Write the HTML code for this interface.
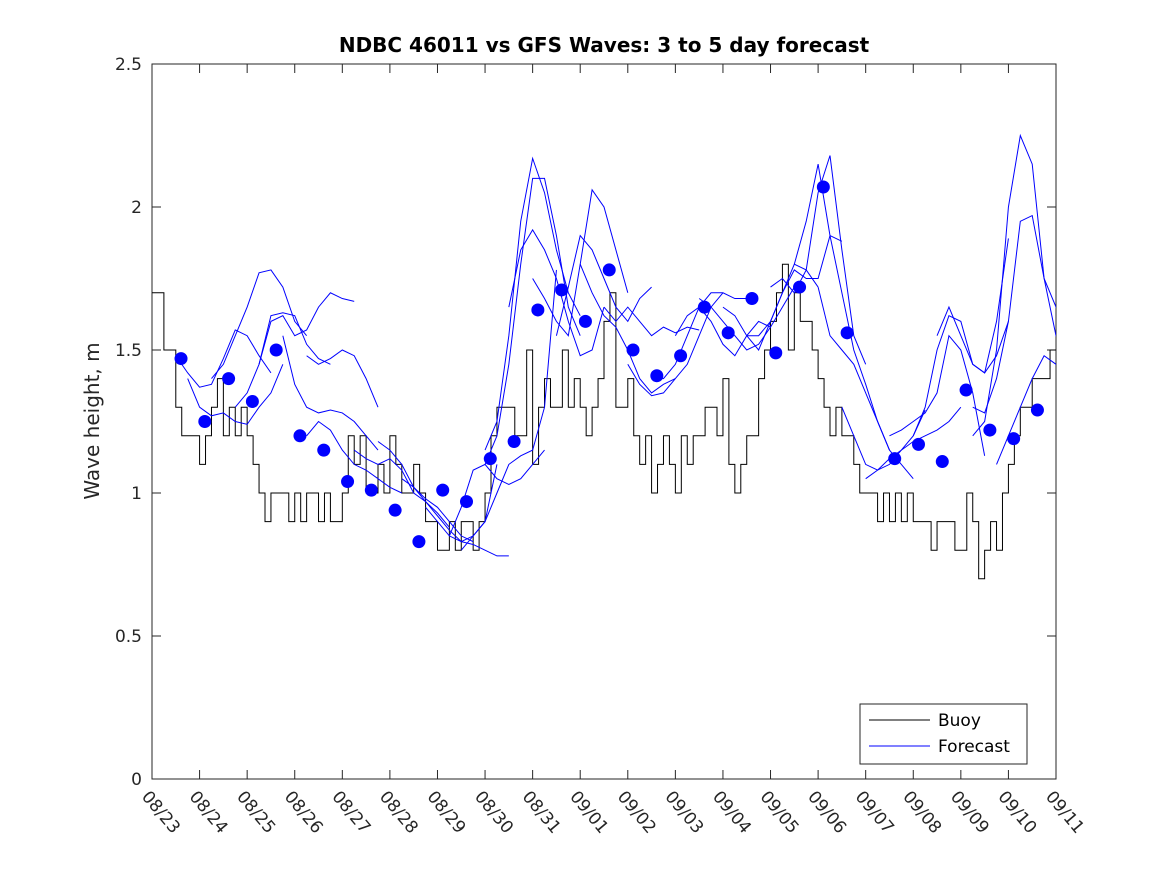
<!DOCTYPE html>
<html><head><meta charset="utf-8"><style>
body{margin:0;background:#fff;}
svg{display:block;font-family:"DejaVu Sans","Liberation Sans",sans-serif;}
</style></head><body>
<svg id="chart" width="1167" height="875" viewBox="0 0 1167 875" xmlns="http://www.w3.org/2000/svg">
<defs><clipPath id="plotclip"><rect x="152" y="64" width="904" height="715"/></clipPath></defs>
<rect x="0" y="0" width="1167" height="875" fill="#fff"/>
<rect x="152" y="64" width="904" height="715" fill="#fff" stroke="#262626" stroke-width="1"/>
<text x="604" y="52" text-anchor="middle" font-size="20" font-weight="bold" fill="#000">NDBC 46011 vs GFS Waves: 3 to 5 day forecast</text>
<text transform="translate(99,421) rotate(-90)" text-anchor="middle" font-size="20" fill="#262626">Wave height, m</text>
<g id="axes"></g>
<g id="series" clip-path="url(#plotclip)"></g>
<g>
<rect x="860" y="704" width="167" height="60" fill="#fff" stroke="#262626" stroke-width="1"/>
<line x1="869" y1="720" x2="930" y2="720" stroke="#000" stroke-width="1"/>
<text x="938" y="726" font-size="17" fill="#000">Buoy</text>
<line x1="869" y1="746" x2="930" y2="746" stroke="#0000ff" stroke-width="1"/>
<text x="938" y="752" font-size="17" fill="#000">Forecast</text>
</g>
</svg>
<script>
const xTickLabels=["08/23","08/24","08/25","08/26","08/27","08/28","08/29","08/30","08/31","09/01","09/02","09/03","09/04","09/05","09/06","09/07","09/08","09/09","09/10","09/11"];
const yTicks=[0,0.5,1,1.5,2,2.5];
const yTickLabels=["0","0.5","1","1.5","2","2.5"];
const buoyStep=0.125;
const buoyValues=[1.7,1.7,1.5,1.5,1.3,1.2,1.2,1.2,
1.1,1.2,1.3,1.4,1.2,1.3,1.2,1.3,
1.2,1.1,1.0,0.9,1.0,1.0,1.0,0.9,
1.0,0.9,1.0,1.0,0.9,1.0,0.9,0.9,
1.0,1.2,1.1,1.2,1.0,1.0,1.1,1.0,
1.2,1.1,1.0,1.0,1.1,1.0,0.9,0.9,
0.8,0.8,0.9,0.8,0.9,0.9,0.8,0.9,
1.0,1.2,1.3,1.3,1.3,1.2,1.2,1.5,
1.1,1.3,1.4,1.3,1.3,1.5,1.3,1.4,
1.3,1.2,1.3,1.4,1.6,1.7,1.3,1.3,
1.4,1.2,1.1,1.2,1.0,1.1,1.2,1.1,
1.0,1.2,1.1,1.2,1.2,1.3,1.3,1.2,
1.4,1.1,1.0,1.1,1.2,1.2,1.4,1.5,
1.6,1.7,1.8,1.5,1.7,1.6,1.6,1.5,
1.4,1.3,1.2,1.3,1.2,1.2,1.1,1.0,
1.0,1.0,0.9,1.0,0.9,1.0,0.9,1.0,
0.9,0.9,0.9,0.8,0.9,0.9,0.9,0.8,
0.8,1.0,0.9,0.7,0.8,0.9,0.8,1.0,
1.1,1.2,1.3,1.3,1.4,1.4,1.4,1.5,1.5];
const forecastStep=0.25;
const forecastStarts=[0.5,0.75,1.25,1.75,2.25,2.75,3.25,3.25,4.25,4.75,5.25,5.75,6.25,6.5,7.0,7.0,7.5,8.0,8.5,9.0,9.5,10.0,10.5,11.0,11.5,12.0,12.5,13.0,13.5,14.0,14.5,15.0,15.5,16.0,16.5,17.25,17.25,17.75];
const forecastValues=[
[1.48,1.42,1.37,1.38,1.47,1.57,1.55,1.48,1.42],
[1.40,1.30,1.27,1.28,1.25,1.24,1.30,1.35,1.45],
[1.40,1.45,1.55,1.65,1.77,1.78,1.72,1.60,1.55],
[1.30,1.35,1.45,1.62,1.63,1.62,1.52,1.47,1.45],
[1.45,1.60,1.62,1.55,1.57,1.65,1.70,1.68,1.67],
[1.55,1.38,1.30,1.28,1.29,1.28,1.25,1.20,1.15],
[1.48,1.45,1.47,1.50,1.48,1.40,1.30],
[1.20,1.25,1.22,1.15,1.10,1.08,1.05,1.02,1.00],
[1.15,1.12,1.10,1.12,1.08,1.00,0.97,0.93,0.88],
[1.18,1.15,1.10,1.02,0.98,0.95,0.90,0.85,0.83],
[1.05,1.02,0.97,0.92,0.87,0.83,0.85,0.90,1.10],
[0.95,0.90,0.85,0.83,0.82,0.80,0.78,0.78],
[0.85,0.95,1.08,1.10,1.05,1.03,1.05,1.10,1.15],
[0.80,0.85,0.90,1.00,1.10,1.13,1.15,1.30,1.78],
[1.15,1.25,1.55,1.95,2.17,2.05,1.85,1.70,1.62],
[1.10,1.20,1.45,1.80,2.10,2.10,1.90,1.65,1.55],
[1.65,1.85,1.92,1.85,1.75,1.60,1.48,1.50,1.65],
[1.75,1.68,1.60,1.55,1.80,2.06,2.00,1.85,1.70],
[1.55,1.72,1.90,1.85,1.75,1.65,1.60,1.68,1.72],
[1.80,1.70,1.62,1.58,1.50,1.40,1.35,1.38,1.40],
[1.65,1.60,1.65,1.60,1.55,1.58,1.56,1.58,1.57],
[1.45,1.38,1.34,1.35,1.40,1.45,1.55,1.65,1.70],
[1.40,1.40,1.45,1.55,1.65,1.70,1.70,1.68,1.68],
[1.55,1.62,1.65,1.60,1.52,1.48,1.55,1.60,1.58],
[1.68,1.65,1.60,1.55,1.50,1.52,1.58,1.65,1.72],
[1.65,1.62,1.55,1.55,1.60,1.70,1.80,1.78,1.72],
[1.55,1.50,1.60,1.70,1.78,1.75,1.75,1.90,1.88],
[1.72,1.75,1.70,1.78,2.05,2.18,1.85,1.55,1.45],
[1.80,1.95,2.15,1.90,1.70,1.50,1.38,1.25,1.15],
[1.72,1.55,1.50,1.45,1.35,1.25,1.15,1.10,1.05],
[1.30,1.20,1.10,1.08,1.10,1.15,1.20,1.29],
[1.05,1.08,1.12,1.15,1.18,1.20,1.22,1.25,1.30],
[1.20,1.22,1.25,1.28,1.35,1.55,1.50,1.35,1.13],
[1.20,1.30,1.50,1.62,1.60,1.45,1.42,1.48,1.60],
[1.55,1.65,1.55,1.45,1.42,1.60,1.89],
[1.30,1.28,1.40,1.60,1.95,1.97,1.75,1.55,1.45],
[1.20,1.25,1.50,2.00,2.25,2.15,1.75,1.65,1.50],
[1.10,1.20,1.30,1.40,1.48,1.45,1.35]];
const dotDays=[0.61,1.11,1.61,2.11,2.61,3.11,3.61,4.11,4.61,5.11,5.61,6.11,6.61,7.11,7.61,8.11,8.61,9.11,9.61,10.11,10.61,11.11,11.61,12.11,12.61,13.11,13.61,14.11,14.61,15.61,16.11,16.61,17.11,17.61,18.11,18.61];
const dotValues=[1.47,1.25,1.40,1.32,1.50,1.20,1.15,1.04,1.01,0.94,0.83,1.01,0.97,1.12,1.18,1.64,1.71,1.60,1.78,1.50,1.41,1.48,1.65,1.56,1.68,1.49,1.72,2.07,1.56,1.12,1.17,1.11,1.36,1.22,1.19,1.29];

const NS="http://www.w3.org/2000/svg";
const X0=152,X1=1056,Y0=779,Y1=64,DAYS=19,YMAX=2.5;
const xs=d=>X0+(X1-X0)*d/DAYS;
const ys=v=>Y0-(Y0-Y1)*v/YMAX;
function mk(tag,parent){const e=document.createElementNS(NS,tag);parent.appendChild(e);return e;}
const axes=document.getElementById('axes');
const series=document.getElementById('series');
xTickLabels.forEach((lab,i)=>{
  const x=xs(i);
  const t1=mk('line',axes);
  
  
  t1.setAttribute('x1',x);t1.setAttribute('x2',x);t1.setAttribute('y1',Y0);t1.setAttribute('y2',Y0-9);t1.setAttribute('stroke','#262626');
  const t2=mk('line',axes);
  
  
  t2.setAttribute('x1',x);t2.setAttribute('x2',x);t2.setAttribute('y1',Y1);t2.setAttribute('y2',Y1+9);t2.setAttribute('stroke','#262626');
  const tx=mk('text',axes);
  
  
  tx.setAttribute('transform','translate('+(x-11)+','+(Y0+18)+') rotate(50)');
  tx.setAttribute('font-size','17');tx.setAttribute('fill','#262626');
  tx.textContent=lab;
});
yTicks.forEach((v,i)=>{
  const y=ys(v);
  const t1=mk('line',axes);
  
  
  t1.setAttribute('x1',X0);t1.setAttribute('x2',X0+9);t1.setAttribute('y1',y);t1.setAttribute('y2',y);t1.setAttribute('stroke','#262626');
  const t2=mk('line',axes);
  
  
  t2.setAttribute('x1',X1);t2.setAttribute('x2',X1-9);t2.setAttribute('y1',y);t2.setAttribute('y2',y);t2.setAttribute('stroke','#262626');
  const tx=mk('text',axes);
  
  
  tx.setAttribute('x',X0-10);tx.setAttribute('y',y+6);tx.setAttribute('text-anchor','end');
  tx.setAttribute('font-size','17');tx.setAttribute('fill','#262626');
  tx.textContent=yTickLabels[i];
});
let d='';
buoyValues.forEach((v,i)=>{
  const x=xs(i*buoyStep),y=ys(v);
  if(i===0)d+='M'+x+','+y;else d+='L'+x+','+ys(buoyValues[i-1])+'L'+x+','+y;
});
const bp=mk('path',series);


bp.setAttribute('d',d);bp.setAttribute('fill','none');bp.setAttribute('stroke','#000');bp.setAttribute('stroke-width','1');
forecastValues.forEach((vals,k)=>{
  const pts=vals.map((v,j)=>xs(forecastStarts[k]+j*forecastStep)+','+ys(v)).join(' ');
  const pl=mk('polyline',series);
  
  
  pl.setAttribute('points',pts);pl.setAttribute('fill','none');pl.setAttribute('stroke','#0000ff');pl.setAttribute('stroke-width','1');
});
dotDays.forEach((dd,i)=>{
  const c=mk('circle',series);
  
  
  c.setAttribute('cx',xs(dd));c.setAttribute('cy',ys(dotValues[i]));c.setAttribute('r','6.5');c.setAttribute('fill','#0000ff');
});
</script>
</body></html>
